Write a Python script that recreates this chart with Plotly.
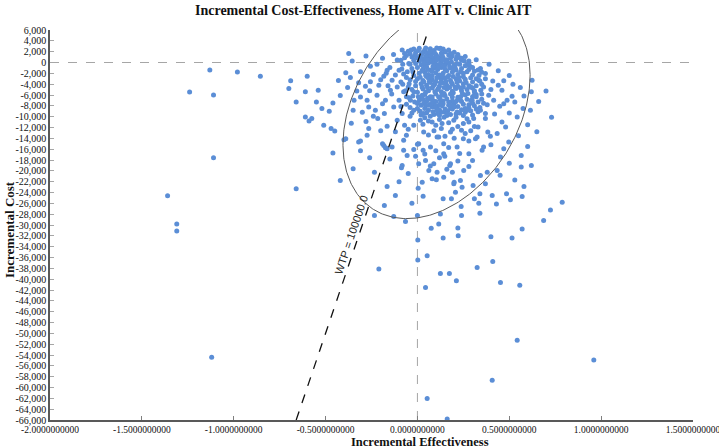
import numpy as np
import plotly.graph_objects as go

# ---------------- data (incremental effectiveness, incremental cost) ----------------
core_points = [
    (-0.02, 2500), (0.01, 2650), (0.04, 2300), (0.07, 2550), (0.09, 2200), (0.12, 2600), (-0.05, 2100), (0.15, 2000), (0.03, 1900),
    (-0.04, 1600), (-0.01, 1800), (0.02, 1500), (0.05, 1700), (0.08, 1900), (0.10, 1500), (0.13, 1700), (0.17, 1400), (0.19, 1200),
    (0.06, 1300), (0.11, 1100), (-0.03, 1000),
    (0.00, 900), (0.03, 700), (0.05, 1000), (0.07, 600), (0.09, 800), (0.12, 700), (0.14, 900), (0.16, 500), (0.21, 600), (0.24, 400),
    (0.18, 800), (0.01, 300), (0.04, 200), (-0.02, 400),
    (0.06, -100), (0.08, 100), (0.10, -300), (0.13, 0), (0.15, -400), (0.17, -200), (0.20, -500), (0.23, -300), (0.02, -400),
    (-0.01, -200), (0.26, -600), (0.11, -600), (0.04, -500), (-0.04, -300),
    (0.00, -900), (0.03, -1200), (0.05, -800), (0.07, -1400), (0.09, -1000), (0.11, -1300), (0.13, -900), (0.15, -1200), (0.18, -1000),
    (0.21, -1400), (0.24, -1100), (0.28, -1300), (-0.03, -1100), (0.16, -1500), (0.08, -1600),
    (0.01, -2000), (0.04, -1800), (0.06, -2200), (0.08, -2400), (0.10, -1900), (0.12, -2300), (0.14, -2000), (0.17, -2400), (0.19, -1800),
    (0.22, -2200), (0.25, -2000), (0.30, -2300), (-0.02, -2400), (0.05, -2600), (0.27, -1700),
    (0.00, -3000), (0.03, -3300), (0.06, -2900), (0.08, -3200), (0.10, -3500), (0.13, -3100), (0.15, -2800), (0.18, -3300), (0.21, -3000),
    (0.23, -3400), (0.26, -3100), (0.32, -3000), (-0.04, -3200), (0.11, -2700),
    (0.02, -3900), (0.05, -4200), (0.07, -3700), (0.09, -4100), (0.12, -4400), (0.14, -3800), (0.16, -4200), (0.19, -4000), (0.22, -4400),
    (0.25, -3900), (0.28, -4300), (-0.01, -4300), (0.35, -4000),
    (0.03, -4900), (0.06, -5200), (0.08, -4700), (0.11, -5000), (0.13, -5400), (0.16, -4900), (0.19, -5300), (0.21, -4800), (0.24, -5200),
    (0.27, -5000), (0.31, -5400), (-0.03, -5000), (0.00, -5500),
    (0.04, -5900), (0.07, -6300), (0.10, -5800), (0.15, -6100), (0.18, -5800), (0.22, -6400), (0.26, -6000), (0.30, -6300), (0.12, -6500),
    (0.02, -6600),
    (0.05, -7200), (0.09, -7600), (0.14, -7100), (0.20, -7500), (0.24, -7200), (0.28, -7800), (0.33, -7300), (0.11, -8000), (0.17, -7900),
    (0.02, -7900), (-0.06, -7700),
    (0.06, -8800), (0.13, -9200), (0.19, -8600), (0.23, -9300), (0.29, -8900), (0.37, -9400), (0.09, -9600), (0.16, -9800),
    (0.04, -10200), (0.21, -10100), (0.27, -10400), (0.12, -10500),
    (0.015, 1200), (0.045, 1100), (0.075, 1200), (0.105, 1000), (0.135, 1300), (0.035, -100), (0.065, 400), (0.095, 300), (0.125, -200),
    (0.155, 200), (0.185, 100), (0.025, -1500), (0.055, -1300), (0.085, -700), (0.115, -900), (0.145, -700), (0.175, -800), (0.205, -900),
    (0.015, -2700), (0.045, -2400), (0.075, -2700), (0.105, -2800), (0.135, -2500), (0.165, -2700), (0.195, -2600), (0.225, -2700),
    (0.035, -3600), (0.065, -3500), (0.095, -3900), (0.125, -3700), (0.155, -3500), (0.185, -3700), (0.215, -3600), (0.025, -4500),
    (0.055, -4600), (0.085, -4400), (0.115, -4700), (0.145, -4600), (0.175, -4600), (0.205, -4500), (0.235, -4700), (0.045, -5500),
    (0.095, -5400), (0.145, -5700), (0.195, -5600), (0.245, -5700), (0.015, 500), (0.055, 500), (0.105, 400), (0.135, 500), (0.025, 1600),
    (0.065, 2000), (0.095, 1700), (0.24, 800), (0.28, 300), (0.30, -900), (0.22, 1500),
    (0.01, -7000), (0.035, -7500), (0.07, -6800), (0.10, -7200), (0.125, -6900), (0.16, -6700), (0.19, -7100), (0.22, -6800), (0.25, -7700),
    (0.29, -7000), (0.32, -6300), (0.34, -8300), (0.31, -8000), (0.26, -8500), (0.22, -8100), (0.18, -8400), (0.15, -8600), (0.12, -8700),
    (0.08, -8200), (0.04, -8500), (0.00, -8500), (-0.03, -9300), (0.02, -9700), (0.07, -9900), (0.11, -9400), (0.145, -10100),
    (0.18, -9600), (0.25, -9800), (0.30, -9700), (0.33, -9100),
    (0.255, 300), (0.285, -700), (0.31, -1600), (0.335, -2400), (0.29, -2800), (0.32, -4300), (0.345, -5100), (0.275, -5700), (0.30, -4700),
    (0.265, -3700), (0.25, -4500), (0.235, -1700), (0.215, -200), (0.195, -1300), (0.23, 900), (0.20, 1900), (0.17, 2300), (0.14, 2500),
    (0.105, 2700), (0.045, 2700), (-0.035, 2300), (-0.06, 1300), (-0.055, -1700), (-0.045, -3900), (-0.065, -5200), (-0.025, -6200),
    (-0.01, -3500), (-0.025, -1700), (-0.015, 1300), (0.005, 2200),
    (0.005, -6300), (0.03, -6800), (0.055, -6600), (0.085, -7000), (0.115, -6300), (0.14, -7600), (0.17, -7300), (0.21, -7200),
    (0.235, -6300), (0.27, -6800), (0.30, -7500), (0.045, -8000), (0.075, -7600), (0.10, -8300), (0.135, -8000), (0.165, -8900),
    (0.20, -8200), (0.24, -8700), (0.28, -8300), (0.015, -9000), (0.05, -9300), (0.085, -9100), (0.12, -9800), (0.15, -9200),
    (0.21, -9500), (0.26, -9200), (0.32, -8600), (-0.04, -8300), (-0.015, -7300), (-0.045, -6500), (-0.08, -4000), (-0.085, -1200),
    (-0.075, -2100), (-0.09, 400), (0.35, -5800), (0.36, -7500), (0.34, -3400), (0.32, -5900),
]

spread_points = [
    (-0.855, -2520), (-0.69, -3390), (-0.70, -4800), (-0.60, -2520), (-0.61, -5420), (-0.54, -5110), (-0.66, -7280), (-0.55, -7280),
    (-0.46, -7460), (-0.61, -10060), (-0.575, -10350), (-0.59, -10800), (-0.51, -11600), (-0.47, -12200), (-0.45, -12650), (-0.40, -14240),
    (-0.32, -14690), (-0.265, -12200), (-0.374, 1680), (-0.355, 260), (-0.39, -1900), (-0.365, -2760), (-0.31, -1720), (-0.256, -670),
    (-0.32, -3760), (-0.33, -5240), (-0.283, -4370), (-0.256, -3570), (-0.31, -6350), (-0.345, -6960), (-0.274, -6960), (-0.265, -8200),
    (-0.22, -6040), (-0.21, -4190), (-0.183, -2520), (-0.165, -1410), (-0.138, -3260), (-0.174, -6960), (-0.147, -5110), (-0.229, -8820),
    (-0.18, -9430), (-0.129, -8200), (-0.216, -10350), (-0.165, -11780), (-0.11, -10670), (-0.083, -9430), (-0.10, -6960), (-0.075, -5420),
    (-0.11, -4500), (-0.10, -1410), (-0.11, 440), (-0.083, 2300), (-0.07, 1680), (-0.047, -170), (-0.06, -2760), (-0.274, -13440),
    (-0.19, -14980), (-0.138, -15610), (-0.075, -14370), (-0.165, -15900),
    (0.70, -5240), (0.624, -3260), (0.56, -4610), (0.615, -8820), (0.543, -10060), (0.575, -8500), (0.515, -6220), (0.47, -3390),
    (0.488, -6960), (0.448, -8070), (0.415, -6960), (0.48, -11900), (0.434, -13130), (0.383, -12830), (0.37, -10350), (0.343, -8820),
    (0.388, -6040), (0.36, -4500), (0.334, -3260), (0.37, -2020), (0.343, -1090), (0.27, -480), (0.216, 1050), (0.18, 1680), (0.125, 2610),
    (0.152, 1980), (0.25, -2650), (0.29, -4500), (0.298, -6960), (0.27, -8820), (0.306, -10350), (0.325, -13760), (0.36, -15610),
    (0.25, -14060), (0.216, -15610), (0.18, -12830), (0.143, -14980), (0.107, -13760), (0.071, -15610), (0.034, -12830), (0.007, -14980),
    (-0.02, -11600), (0.016, -10670), (0.08, -10980), (0.134, -11280), (0.198, -10670), (0.25, -11280), (0.216, -9130), (0.162, -9430),
    (0.107, -8820), (0.034, -9430), (-0.02, -8820), (-0.038, -6960), (0.0, -7580), (0.062, -7890), (0.125, -7580), (0.18, -7890),
    (0.234, -6960), (0.19, -6350), (0.134, -6040), (0.08, -6350), (0.026, -6040), (-0.02, -5420), (0.73, -10100),
    (-0.39, -14060), (-0.31, -14500), (-0.46, -16720), (-0.66, -23320), (-0.234, -20240), (-0.183, -15300), (-0.174, -15730),
    (-0.165, -22900), (-0.12, -24560), (-0.234, -28260), (-0.129, -28450), (-0.065, -29370), (-0.21, -38130), (-0.083, -19000),
    (-0.087, -19430), (-0.06, -13440), (-0.075, -16220), (-0.056, -17150), (-0.01, -17330), (-0.02, -16040), (0.007, -18690),
    (0.004, -23200), (0.026, -22090), (0.031, -24680), (0.0, -15110), (0.031, -16220), (0.044, -18070), (0.062, -19930), (0.08, -21470),
    (0.089, -18690), (0.107, -20240), (0.103, -21650), (0.143, -21170), (0.14, -25170), (0.116, -13760), (0.143, -16840), (0.149, -17330),
    (0.18, -18690), (0.176, -19000), (0.19, -20240), (0.2, -22090), (0.198, -22390), (0.185, -25170), (0.207, -23950), (0.234, -21780),
    (0.243, -23020), (0.238, -26600), (0.24, -28260), (0.252, -19930), (0.28, -16840), (0.303, -22710), (0.31, -25170), (0.34, -24240),
    (0.334, -25980), (0.34, -27830), (0.343, -20850), (0.352, -16220), (0.37, -22390), (0.38, -20240), (0.316, -14060), (0.407, -24560),
    (0.434, -19930), (0.43, -26100), (0.485, -24240), (0.506, -25360), (0.57, -24740), (0.565, -19310), (0.565, -17150), (0.497, -14690),
    (0.452, -17460), (0.47, -15910), (0.397, -13630), (0.57, -30720), (0.515, -32390), (0.40, -32150), (0.41, -36720), (0.325, -37830),
    (0.452, -40610), (0.557, -41100), (0.687, -29190), (0.724, -27210), (0.788, -25800), (0.22, -30540), (0.222, -31970), (0.14, -32390),
    (0.116, -29800), (0.075, -30610), (0.125, -38950), (0.174, -38950), (0.212, -40300), (0.053, -35670), (0.002, -32760), (0.002, -36470),
    (0.044, -41540), (0.0, -28260), (0.125, -27950),
    (-0.28, 1200), (-0.22, -300), (-0.19, 800), (-0.15, -900), (-0.13, 1500), (-0.24, -2200), (-0.08, -300), (-0.07, 900), (-0.17, -2000),
    (-0.12, -2300), (-0.09, -3600), (-0.20, -3200), (-0.26, -5200), (-0.16, -4300), (-0.05, -4500), (-0.14, -5800), (-0.06, -6300),
    (-0.19, -7600), (-0.24, -9900), (-0.30, -9200), (-0.35, -8800), (-0.38, -4600), (-0.42, -6100), (-0.43, -3300), (-0.48, -9000),
    (-0.52, -8500), (-0.36, -11200), (-0.28, -10900), (-0.12, -12800), (-0.07, -11600), (-0.04, -9900), (-0.09, -8100), (-0.20, -12600),
    (-0.31, -16300), (-0.26, -17600), (-0.15, -17800), (-0.05, -20500), (-0.10, -22000), (-0.03, -26000), (-0.18, -26400), (-0.35, -19600),
    (-0.42, -21800),
    (0.32, 500), (0.35, -1800), (0.39, -300), (0.41, -3400), (0.44, -1500), (0.46, -5100), (0.50, -2400), (0.52, -4000), (0.38, -7800),
    (0.42, -9500), (0.46, -11000), (0.50, -9300), (0.53, -7300), (0.58, -6200), (0.60, -11500), (0.55, -13500), (0.40, -15200),
    (0.33, -11900), (0.29, -12600), (0.26, -13100), (0.44, -4200), (0.31, -6000), (0.35, -6800), (0.40, -5000), (0.30, -3600),
    (0.33, -1400), (0.28, -200), (0.26, 1100), (0.31, -5200), (0.37, -3000), (0.47, -7600), (0.60, -15500), (0.65, -12800), (0.66, -7200),
    (0.62, -5400), (0.45, -20800), (0.50, -18600), (0.53, -21700), (0.58, -22900), (0.62, -19000),
    (0.06, -10800), (0.10, -11600), (0.17, -11100), (0.22, -11800), (0.28, -11000), (0.31, -11800), (0.03, -11400), (-0.05, -12300),
    (0.13, -12200), (0.19, -12300), (0.09, -12600), (0.24, -12500), (0.06, -13400), (0.15, -13600), (0.20, -14000), (0.28, -14500),
    (0.04, -16900), (0.10, -16300), (0.17, -15700), (0.23, -16800), (0.12, -17600), (0.07, -19100), (0.16, -19700), (0.22, -18200),
    (0.28, -19200), (0.30, -18100),
]

outlier_points = [
    (0.543, -51280), (0.96, -54930), (0.407, -58640), (0.053, -62030), (0.162, -65800),
    (-1.13, -1400), (-0.98, -1750), (-1.24, -5450), (-1.11, -6000), (-1.11, -17600), (-1.36, -24600), (-1.31, -29800), (-1.31, -31100),
    (-1.12, -54400),
]

# axis / reference settings
x_range = [-2.0, 1.5]
y_range = [-66000, 6000]
x_ticks = [-2.0, -1.5, -1.0, -0.5, 0.0, 0.5, 1.0, 1.5]
y_ticks = list(range(6000, -66001, -2000))
WTP = 100000.0

# confidence ellipse (center, two conjugate semi-axes in data units)
ell_center = (0.104, -8770)
ell_axis1 = (0.3435, 18350)
ell_axis2 = (0.3760, -8100)

all_points = core_points + spread_points + outlier_points
inc_eff = [p[0] for p in all_points]
inc_cost = [p[1] for p in all_points]

t = np.linspace(0, 2 * np.pi, 361)
ell_x = ell_center[0] + np.cos(t) * ell_axis1[0] + np.sin(t) * ell_axis2[0]
ell_y = ell_center[1] + np.cos(t) * ell_axis1[1] + np.sin(t) * ell_axis2[1]

serif = "Liberation Serif"

# plot area in pixels
L, R, T, B = 50, 26, 30, 28
W, H = 719, 448
PW, PH = W - L - R, H - T - B

fig = go.Figure()

fig.add_trace(go.Scatter(x=x_range, y=[0, 0], mode="lines",
                         line=dict(color="#A6A6A6", width=1, dash="dash"), hoverinfo="skip", showlegend=False))
fig.add_trace(go.Scatter(x=[0, 0], y=y_range, mode="lines",
                         line=dict(color="#A6A6A6", width=1, dash="dash"), hoverinfo="skip", showlegend=False))

fig.add_trace(go.Scatter(x=inc_eff, y=inc_cost, mode="markers",
                         marker=dict(color="#5B8ED6", size=5, line=dict(width=0)),
                         showlegend=False, cliponaxis=True))

fig.add_trace(go.Scatter(x=ell_x, y=ell_y, mode="lines",
                         line=dict(color="#595959", width=1), hoverinfo="skip", showlegend=False))

fig.add_trace(go.Scatter(x=[y_range[0] / WTP, y_range[1] / WTP], y=y_range, mode="lines",
                         line=dict(color="#111111", width=1.3, dash="dash"), hoverinfo="skip", showlegend=False))

fig.add_annotation(x=-0.361, y=-31840, xref="x", yref="y", text="WTP = 100000.0", showarrow=False,
                   textangle=-71.3, font=dict(family="Liberation Sans", size=11, color="#262626"))

fig.add_annotation(x=(363 - L) / PW, y=1 + (T - 11) / PH, xref="paper", yref="paper",
                   text="<b>Incremental Cost-Effectiveness, Home AIT v. Clinic AIT</b>",
                   showarrow=False, xanchor="center", yanchor="middle",
                   font=dict(family=serif, size=14, color="#111111"))
fig.add_annotation(x=(420 - L) / PW, y=-(441.5 - (H - B)) / PH, xref="paper", yref="paper",
                   text="<b>Incremental Effectiveness</b>", showarrow=False, xanchor="center", yanchor="middle",
                   font=dict(family=serif, size=12.5, color="#111111"))
fig.add_annotation(x=-(L - 9) / PW, y=((H - B) - 229) / PH, xref="paper", yref="paper",
                   text="<b>Incremental Cost</b>", showarrow=False, textangle=-90, xanchor="center", yanchor="middle",
                   font=dict(family=serif, size=13, color="#111111"))

fig.update_layout(
    width=W, height=H,
    margin=dict(l=L, r=R, t=T, b=B, autoexpand=False),
    paper_bgcolor="white", plot_bgcolor="white",
    xaxis=dict(range=x_range, tickvals=x_ticks, ticktext=[f"{v:.10f}" for v in x_ticks],
               showgrid=False, zeroline=False, showline=True, linecolor="#595959", linewidth=1.5,
               ticks="inside", ticklen=4, tickcolor="#7F7F7F", ticklabeloverflow="allow",
               tickfont=dict(family=serif, size=9.5, color="#111111")),
    yaxis=dict(range=y_range, tickvals=y_ticks, ticktext=[f"{v:,}" for v in y_ticks],
               showgrid=False, zeroline=False, showline=True, linecolor="#595959", linewidth=1.5,
               ticks="inside", ticklen=4, tickcolor="#A6A6A6",
               tickfont=dict(family=serif, size=10, color="#111111")),
    showlegend=False,
)

fig.write_html("out.html", config={"displayModeBar": False},
               post_script="document.body.style.margin='0px';document.body.style.overflow='hidden';")
